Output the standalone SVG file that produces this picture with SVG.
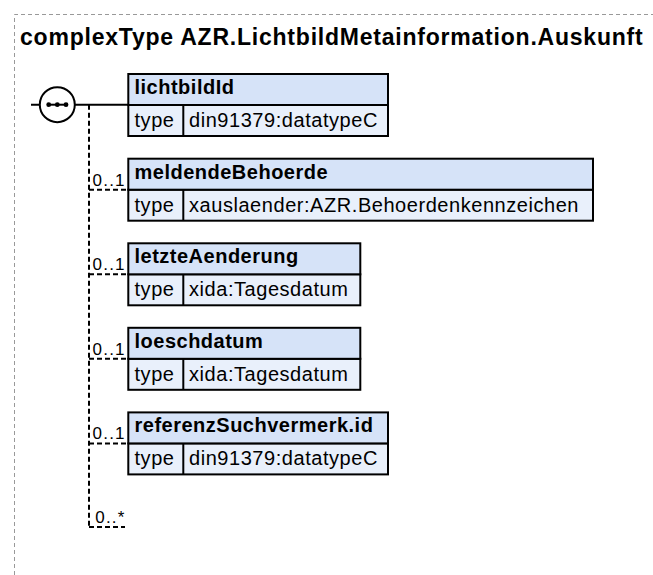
<svg xmlns="http://www.w3.org/2000/svg" width="653" height="575" viewBox="0 0 653 575">
<style>
.frame{fill:none;stroke:#999;stroke-width:1;stroke-dasharray:4 3}
.title{font-family:"Liberation Sans",Arial,sans-serif;font-size:23px;font-weight:bold;letter-spacing:0.78px;fill:#000}
.hdr{fill:#d6e3f8;stroke:#000;stroke-width:2}
.row{fill:#e9f0fb;stroke:#000;stroke-width:2}
.div{stroke:#000;stroke-width:2}
.name{font-family:"Liberation Sans",Arial,sans-serif;font-size:20px;font-weight:bold;letter-spacing:0.5px;fill:#000}
.txt{font-family:"Liberation Sans",Arial,sans-serif;font-size:20px;letter-spacing:0.55px;fill:#000}
.lbl{font-family:"Liberation Sans",Arial,sans-serif;font-size:17px;letter-spacing:1.2px;fill:#000}
.solid{fill:none;stroke:#000;stroke-width:2}
.dash{fill:none;stroke:#000;stroke-width:2;stroke-dasharray:5 3}
</style>
<path class="frame" d="M14.5 575 V14.5 H653"/>
<text class="title" x="20" y="45">complexType AZR.LichtbildMetainformation.Auskunft</text>

<g id="connectors">
<line class="solid" x1="31" y1="104.7" x2="128" y2="104.7"/>
<line class="dash" x1="89" y1="104.7" x2="89" y2="527"/>
<line class="dash" x1="89" y1="189.7" x2="128" y2="189.7"/>
<line class="dash" x1="89" y1="274.3" x2="128" y2="274.3"/>
<line class="dash" x1="89" y1="358.8" x2="128" y2="358.8"/>
<line class="dash" x1="89" y1="443.4" x2="128" y2="443.4"/>
<line class="dash" x1="89" y1="527" x2="125" y2="527"/>
<text class="lbl" x="92.6" y="185.5">0..1</text>
<text class="lbl" x="92.6" y="270">0..1</text>
<text class="lbl" x="92.6" y="354.5">0..1</text>
<text class="lbl" x="92.6" y="439">0..1</text>
<text class="lbl" x="95.3" y="523">0..*</text>
</g>

<g id="sequence">
<circle cx="57.3" cy="104.7" r="17.5" fill="#fff" stroke="#000" stroke-width="2"/>
<line x1="47" y1="104.7" x2="68" y2="104.7" stroke="#000" stroke-width="2"/>
<circle cx="48.7" cy="104.7" r="2.4" fill="#000"/>
<circle cx="57.3" cy="104.7" r="2.4" fill="#000"/>
<circle cx="66" cy="104.7" r="2.4" fill="#000"/>
</g>

<g id="lichtbildId">
<rect class="row" x="128.3" y="105" width="259.7" height="31"/>
<rect class="hdr" x="128.3" y="74" width="259.7" height="31"/>
<line class="div" x1="183.3" y1="105" x2="183.3" y2="136"/>
<text class="name" x="134.5" y="94">lichtbildId</text>
<text class="txt" x="134.5" y="127">type</text>
<text class="txt" x="189" y="127">din91379:datatypeC</text>
</g>

<g id="meldendeBehoerde">
<rect class="row" x="128.3" y="189.7" width="464.7" height="31"/>
<rect class="hdr" x="128.3" y="158.7" width="464.7" height="31"/>
<line class="div" x1="183.3" y1="189.7" x2="183.3" y2="220.7"/>
<text class="name" x="134.5" y="178.7">meldendeBehoerde</text>
<text class="txt" x="134.5" y="211.7">type</text>
<text class="txt" x="189" y="211.7">xauslaender:AZR.Behoerdenkennzeichen</text>
</g>

<g id="letzteAenderung">
<rect class="row" x="128.3" y="274.3" width="232" height="31"/>
<rect class="hdr" x="128.3" y="243.3" width="232" height="31"/>
<line class="div" x1="183.3" y1="274.3" x2="183.3" y2="305.3"/>
<text class="name" x="134.5" y="263.3">letzteAenderung</text>
<text class="txt" x="134.5" y="296.3">type</text>
<text class="txt" x="189" y="296.3">xida:Tagesdatum</text>
</g>

<g id="loeschdatum">
<rect class="row" x="128.3" y="358.8" width="232" height="31"/>
<rect class="hdr" x="128.3" y="327.8" width="232" height="31"/>
<line class="div" x1="183.3" y1="358.8" x2="183.3" y2="389.8"/>
<text class="name" x="134.5" y="347.8">loeschdatum</text>
<text class="txt" x="134.5" y="380.8">type</text>
<text class="txt" x="189" y="380.8">xida:Tagesdatum</text>
</g>

<g id="referenzSuchvermerk.id">
<rect class="row" x="128.3" y="443.4" width="259.7" height="31"/>
<rect class="hdr" x="128.3" y="412.4" width="259.7" height="31"/>
<line class="div" x1="183.3" y1="443.4" x2="183.3" y2="474.4"/>
<text class="name" x="134.5" y="432.4">referenzSuchvermerk.id</text>
<text class="txt" x="134.5" y="465.4">type</text>
<text class="txt" x="189" y="465.4">din91379:datatypeC</text>
</g>
</svg>
